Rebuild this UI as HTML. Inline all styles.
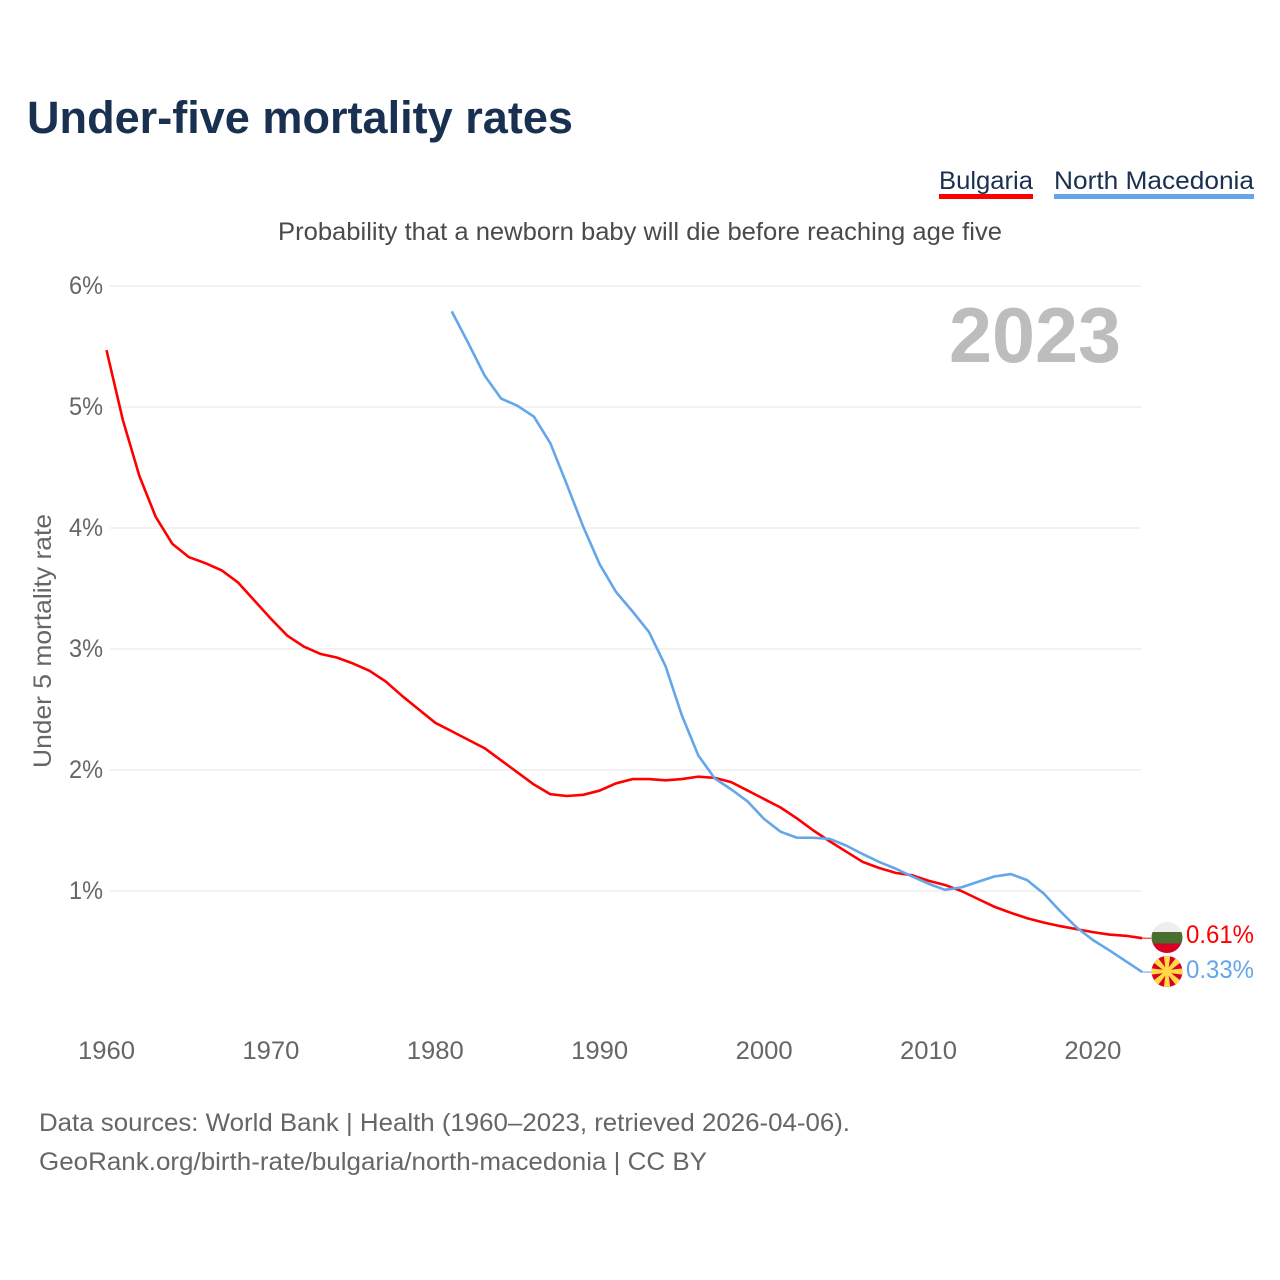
<!DOCTYPE html>
<html lang="en">
<head>
<meta charset="utf-8">
<title>Under-five mortality rates</title>
<style>
html,body{margin:0;padding:0;background:#fff;}
svg{display:block;}
text{font-family:"Liberation Sans",sans-serif;}
</style>
</head>
<body>
<svg id="chart" xmlns="http://www.w3.org/2000/svg" width="1280" height="1280" viewBox="0 0 1280 1280">
  <defs>
    <clipPath id="clip-bg"><circle cx="1167" cy="937.5" r="15.5"/></clipPath>
    <clipPath id="clip-mk"><circle cx="1167" cy="971.5" r="15.5"/></clipPath>
  </defs>
  <rect x="0" y="0" width="1280" height="1280" fill="#fff"/>
  <text x="27" y="133" font-size="45" font-weight="700" fill="#1a3050" textLength="546" lengthAdjust="spacingAndGlyphs">Under-five mortality rates</text>

  <g>
    <text x="939" y="189" font-size="25" fill="#1a3050" textLength="94" lengthAdjust="spacingAndGlyphs">Bulgaria</text>
    <rect x="939" y="194" width="94" height="5" fill="#ff0000"/>
  </g>
  <g>
    <text x="1054" y="189" font-size="25" fill="#1a3050" textLength="200" lengthAdjust="spacingAndGlyphs">North Macedonia</text>
    <rect x="1054" y="194" width="200" height="5" fill="#64a6ea"/>
  </g>

  <text x="278" y="240" font-size="25" fill="#4a4a4a" textLength="724" lengthAdjust="spacingAndGlyphs">Probability that a newborn baby will die before reaching age five</text>

  <text x="949" y="362" font-size="78" font-weight="700" fill="#bdbdbd" textLength="172" lengthAdjust="spacingAndGlyphs">2023</text>

  <text transform="translate(51,641) rotate(-90)" text-anchor="middle" font-size="25" fill="#666" textLength="254" lengthAdjust="spacingAndGlyphs">Under 5 mortality rate</text>

  <g id="grid"></g>
  <g id="yticks"></g>
  <g id="xticks"></g>
  <g id="lines"></g>

  <g clip-path="url(#clip-bg)">
    <rect x="1150" y="920" width="34" height="12" fill="#eeeeee"/>
    <rect x="1150" y="932" width="34" height="11.5" fill="#496e2d"/>
    <rect x="1150" y="943.5" width="34" height="12" fill="#d80027"/>
  </g>
  <g clip-path="url(#clip-mk)">
    <rect x="1150" y="954" width="34" height="35" fill="#d80027"/>
    <g fill="#ffda44">
      <polygon points="1165.8,971.5 1163.6,954 1170.4,954 1168.2,971.5"/>
      <polygon points="1165.8,971.5 1163.6,954 1170.4,954 1168.2,971.5" transform="rotate(45 1167 971.5)"/>
      <polygon points="1165.8,971.5 1163.6,954 1170.4,954 1168.2,971.5" transform="rotate(90 1167 971.5)"/>
      <polygon points="1165.8,971.5 1163.6,954 1170.4,954 1168.2,971.5" transform="rotate(135 1167 971.5)"/>
      <polygon points="1165.8,971.5 1163.6,954 1170.4,954 1168.2,971.5" transform="rotate(180 1167 971.5)"/>
      <polygon points="1165.8,971.5 1163.6,954 1170.4,954 1168.2,971.5" transform="rotate(225 1167 971.5)"/>
      <polygon points="1165.8,971.5 1163.6,954 1170.4,954 1168.2,971.5" transform="rotate(270 1167 971.5)"/>
      <polygon points="1165.8,971.5 1163.6,954 1170.4,954 1168.2,971.5" transform="rotate(315 1167 971.5)"/>
    </g>
    <circle cx="1167" cy="971.5" r="4.2" fill="#ffda44"/>
  </g>

  <g id="endlabels"></g>

  <text x="39" y="1131" font-size="25" fill="#666" textLength="811" lengthAdjust="spacingAndGlyphs">Data sources: World Bank | Health (1960–2023, retrieved 2026-04-06).</text>
  <text x="39" y="1170" font-size="25" fill="#666" textLength="668" lengthAdjust="spacingAndGlyphs">GeoRank.org/birth-rate/bulgaria/north-macedonia | CC BY</text>
</svg>
<script>
const yTickValues = [1, 2, 3, 4, 5, 6];
const xTickYears = [1960, 1970, 1980, 1990, 2000, 2010, 2020];

const bulgariaStartYear = 1960;
const bulgariaValues = [
  5.47, 4.89, 4.43, 4.09, 3.87, 3.76, 3.71, 3.65, 3.55, 3.40,
  3.25, 3.11, 3.02, 2.96, 2.93, 2.88, 2.82, 2.73, 2.61, 2.50,
  2.39, 2.32, 2.25, 2.18, 2.08, 1.98, 1.88, 1.80, 1.785, 1.795,
  1.83, 1.89, 1.925, 1.925, 1.915, 1.925, 1.945, 1.935, 1.90, 1.83,
  1.76, 1.69, 1.60, 1.50, 1.41, 1.325, 1.24, 1.19, 1.15, 1.13,
  1.085, 1.05, 1.00, 0.935, 0.87, 0.82, 0.775, 0.74, 0.71, 0.685,
  0.66, 0.64, 0.63, 0.61
];

const macedoniaStartYear = 1981;
const macedoniaValues = [
  5.79, 5.53, 5.26, 5.07, 5.01, 4.92, 4.70, 4.36, 4.01, 3.70,
  3.47, 3.31, 3.14, 2.86, 2.45, 2.12, 1.93, 1.84, 1.74, 1.595,
  1.49, 1.44, 1.44, 1.43, 1.375, 1.305, 1.24, 1.185, 1.12, 1.06,
  1.01, 1.03, 1.075, 1.12, 1.14, 1.09, 0.98, 0.835, 0.70, 0.595,
  0.51, 0.42, 0.33
];

const SVG_NS = 'http://www.w3.org/2000/svg';
const xScale = function (year) { return 106.5 + (year - 1960) * 16.44; };
const yScale = function (value) { return 1012 - value * 121; };

function makeEl(tag, parentId) {
  const el = document.createElementNS(SVG_NS, tag);
  document.getElementById(parentId).appendChild(el);
  return el;
}

yTickValues.forEach(function (v) {
  const line = makeEl('line', 'grid');
  
  
  line.setAttribute('x1', 110);
  line.setAttribute('x2', 1141);
  line.setAttribute('y1', yScale(v));
  line.setAttribute('y2', yScale(v));
  line.setAttribute('stroke', '#eeeeee');
  line.setAttribute('stroke-width', 1.5);

  const label = makeEl('text', 'yticks');
  
  
  label.setAttribute('x', 103);
  label.setAttribute('y', yScale(v) + 8);
  label.setAttribute('text-anchor', 'end');
  label.setAttribute('font-size', 25);
  label.setAttribute('fill', '#666');
  label.setAttribute('textLength', 34);
  label.setAttribute('lengthAdjust', 'spacingAndGlyphs');
  label.textContent = v + '%';
});

xTickYears.forEach(function (year) {
  const label = makeEl('text', 'xticks');
  
  
  label.setAttribute('x', xScale(year));
  label.setAttribute('y', 1059);
  label.setAttribute('text-anchor', 'middle');
  label.setAttribute('font-size', 25);
  label.setAttribute('fill', '#666');
  label.setAttribute('textLength', 57);
  label.setAttribute('lengthAdjust', 'spacingAndGlyphs');
  label.textContent = String(year);
});

function drawSeries(values, startYear, color, lineName, connectorName, labelName, labelY) {
  const points = values.map(function (v, i) {
    return xScale(startYear + i).toFixed(2) + ',' + yScale(v).toFixed(2);
  }).join(' ');
  const line = makeEl('polyline', 'lines');
  
  
  line.setAttribute('points', points);
  line.setAttribute('fill', 'none');
  line.setAttribute('stroke', color);
  line.setAttribute('stroke-width', 2.6);
  line.setAttribute('stroke-linejoin', 'round');

  const last = values[values.length - 1];
  const lastYear = startYear + values.length - 1;
  const connector = makeEl('line', 'lines');
  
  
  connector.setAttribute('x1', xScale(lastYear));
  connector.setAttribute('x2', xScale(lastYear) + 9);
  connector.setAttribute('y1', yScale(last));
  connector.setAttribute('y2', yScale(last));
  connector.setAttribute('stroke', color);
  connector.setAttribute('stroke-width', 1);

  const label = makeEl('text', 'endlabels');
  
  
  label.setAttribute('x', 1186);
  label.setAttribute('y', labelY);
  label.setAttribute('font-size', 25);
  label.setAttribute('fill', color);
  label.setAttribute('textLength', 68);
  label.setAttribute('lengthAdjust', 'spacingAndGlyphs');
  label.textContent = last.toFixed(2) + '%';
}

drawSeries(bulgariaValues, bulgariaStartYear, '#ff0000', 'line-bulgaria', 'connector-bulgaria', 'value-label-bulgaria', 943);
drawSeries(macedoniaValues, macedoniaStartYear, '#64a6ea', 'line-north-macedonia', 'connector-north-macedonia', 'value-label-north-macedonia', 978);
</script>
</body>
</html>
